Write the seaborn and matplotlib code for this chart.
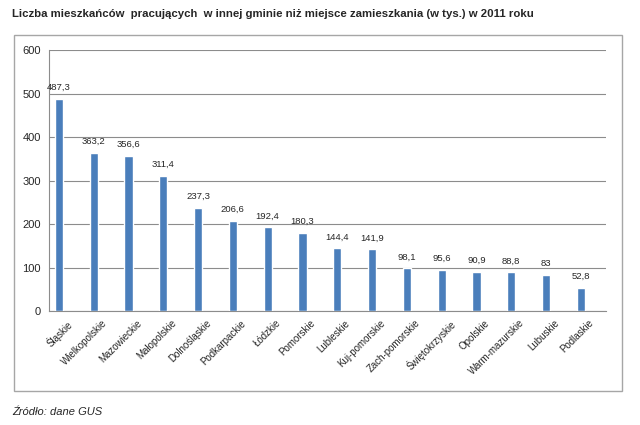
import matplotlib.pyplot as plt
import pandas as pd
import seaborn as sns
from matplotlib.patches import Rectangle

# data
regions = ['Śląskie', 'Wielkopolskie', 'Mazowieckie', 'Małopolskie', 'Dolnośląskie',
           'Podkarpackie', 'Łódzkie', 'Pomorskie', 'Lubleskie', 'Kuj-pomorskie',
           'Zach-pomorskie', 'Świętokrzyskie', 'Opolskie', 'Warm-mazurskie',
           'Lubuskie', 'Podlaskie']
values = [487.3, 363.2, 356.6, 311.4, 237.3, 206.6, 192.4, 180.3, 144.4, 141.9,
          98.1, 95.6, 90.9, 88.8, 83, 52.8]
value_labels = ['487,3', '363,2', '356,6', '311,4', '237,3', '206,6', '192,4', '180,3',
                '144,4', '141,9', '98,1', '95,6', '90,9', '88,8', '83', '52,8']
y_ticks = [0, 100, 200, 300, 400, 500, 600]

# the Excel original keeps an empty second series, so bars sit left of the category centre
df = pd.DataFrame({'region': regions, 'value': values, 'series': '2011'})

sns.set_style('white')
plt.rcParams['font.family'] = ['Liberation Sans', 'DejaVu Sans']

fig = plt.figure(figsize=(6.4, 4.25), dpi=100)
ax = fig.add_axes([0.077, 0.268, 0.870, 0.614])

# outer frame
fig.patches.append(Rectangle((14 / 640, 1 - 391 / 425), 608 / 640, 356 / 425,
                             transform=fig.transFigure, fill=False,
                             edgecolor='#a6a6a6', linewidth=1.0))

sns.barplot(data=df, x='region', y='value', hue='series', hue_order=['2011', 'empty'],
            palette={'2011': '#4a7ebb', 'empty': '#c0504d'}, width=0.9, gap=0.48,
            dodge=True, saturation=1, legend=False, ax=ax, zorder=3)

ax.bar_label(ax.containers[0], labels=value_labels, padding=5, fontsize=6.8)

ax.set_ylim(0, 600)
ax.set_xlim(-0.5, len(regions) - 0.5)
ax.set_yticks(y_ticks)
ax.set_yticklabels([str(t) for t in y_ticks], fontsize=8)
ax.yaxis.grid(True, color='#8c8c8c', linewidth=0.8, zorder=0)
ax.set_xlabel('')
ax.set_ylabel('')

# x tick marks between categories
ax.set_xticks(range(len(regions)))
ax.set_xticklabels(regions, rotation=45, ha='right', rotation_mode='anchor', fontsize=7)
ax.tick_params(axis='x', length=0, pad=5)
ax.set_xticks([i - 0.5 for i in range(len(regions) + 1)], minor=True)
ax.tick_params(axis='x', which='minor', length=4, color='#8c8c8c', direction='out')
ax.tick_params(axis='y', length=3, color='#8c8c8c', direction='out', pad=3)

for side in ['top', 'right']:
    ax.spines[side].set_visible(False)
for side in ['left', 'bottom']:
    ax.spines[side].set_color('#8c8c8c')
    ax.spines[side].set_linewidth(0.8)

fig.text(12 / 640, 1 - 14 / 425,
         'Liczba mieszkańców  pracujących  w innej gminie niż miejsce zamieszkania (w tys.) w 2011 roku',
         fontsize=8.2, fontweight='bold', ha='left', va='center')
fig.text(12 / 640, 1 - 412 / 425, 'Źródło: dane GUS', fontsize=8, style='italic',
         ha='left', va='center')

plt.savefig('out.png', dpi=100)
plt.close()
